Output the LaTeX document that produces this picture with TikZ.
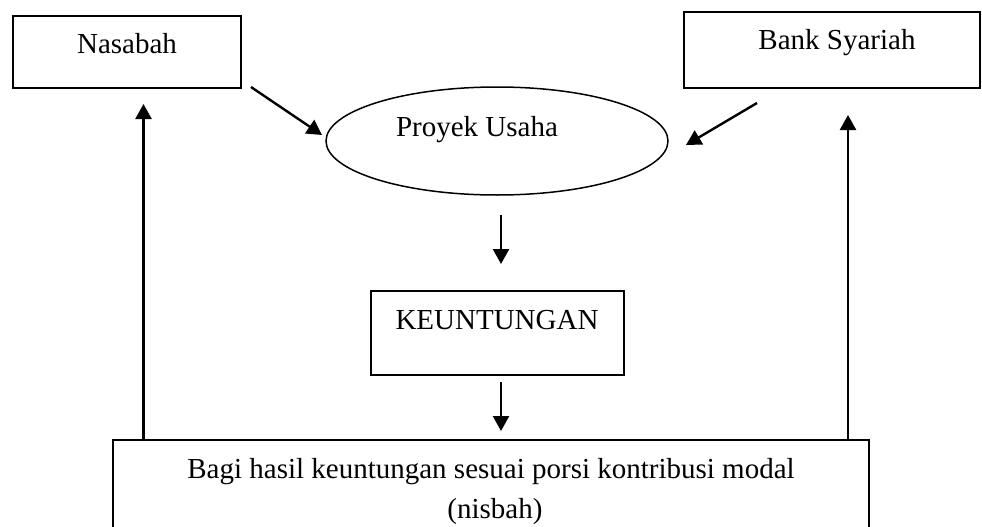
\documentclass[tikz,border=0pt]{standalone}
\usepackage{fontspec}
\setmainfont{Liberation Serif}
\usetikzlibrary{arrows.meta,shapes.geometric}
\begin{document}
\begin{tikzpicture}[x=1pt,y=-1pt,
  shapebox/.style={draw, line width=2pt, rectangle, inner sep=0pt},
  oval/.style={draw, line width=1.5pt, ellipse, inner sep=0pt},
  lbl/.style={anchor=base, inner sep=0pt, font=\fontsize{29}{40}\selectfont},
  arr/.style={line width=2.4pt, -{Triangle[length=15pt,width=16pt]}}]
\useasboundingbox (0,0) rectangle (982,527);
% shapes
\node[shapebox, minimum width=228pt, minimum height=72pt] (nas) at (127,52) {};
\node[shapebox, minimum width=296pt, minimum height=76pt] (bank) at (832,50) {};
\node[oval, minimum width=342pt, minimum height=108pt] (ell) at (497,141) {};
\node[shapebox, minimum width=253pt, minimum height=84pt] (keu) at (497.5,333) {};
\node[shapebox, minimum width=756pt, minimum height=110pt] (bagi) at (491,495) {};
% texts
\node[lbl] (tnas) at (127,54) {Nasabah};
\node[lbl] (tbank) at (837,50) {Bank Syariah};
\node[lbl] (tell) at (477,136) {Proyek Usaha};
\node[lbl] (tkeu) at (497,329) {KEUNTUNGAN};
\node[lbl] (tbagi1) at (491,478) {Bagi hasil keuntungan sesuai porsi kontribusi modal};
\node[lbl] (tbagi2) at (495,518) {(nisbah)};
% connector end points
\coordinate (a1) at (251,87);  \coordinate (a2) at (322,135);
\coordinate (b1) at (757,103); \coordinate (b2) at (686,145);
\coordinate (c1) at (501,215); \coordinate (c2) at (501,264);
\coordinate (d1) at (501,382); \coordinate (d2) at (501,431);
\coordinate (e1) at (143.5,440); \coordinate (e2) at (143.5,104);
\coordinate (f1) at (848,440); \coordinate (f2) at (848,115);
% connectors
\draw[arr] (a1) -- (a2);
\draw[arr] (b1) -- (b2);
\draw[arr] (c1) -- (c2);
\draw[arr] (d1) -- (d2);
\draw[arr] (e1) -- (e2);
\draw[arr] (f1) -- (f2);
\end{tikzpicture}
\end{document}
